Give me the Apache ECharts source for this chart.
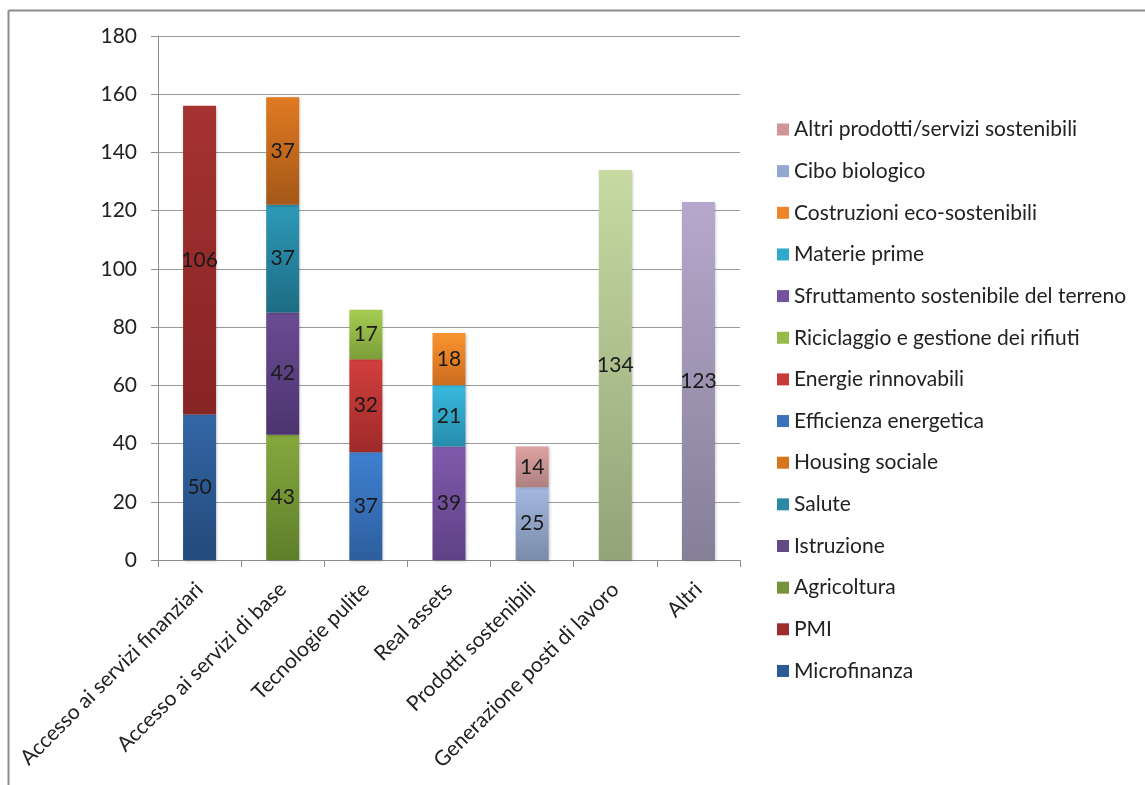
<!DOCTYPE html>
<html>
<head>
<meta charset="utf-8">
<script src="https://cdn.jsdelivr.net/npm/echarts@6/dist/echarts.min.js"></script>
<style>
html,body{margin:0;padding:0;background:#fff;}
#chart{width:1145px;height:785px;}
</style>
</head>
<body>
<div id="chart"></div>
<script>
// Categories
const categories = ["Accesso ai servizi finanziari","Accesso ai servizi di base","Tecnologie pulite","Real assets","Prodotti sostenibili","Generazione posti di lavoro","Altri"];
const yTicks = [0,20,40,60,80,100,120,140,160,180];

// Series values (stacked bottom to top)
const microfinanza   = [50, null, null, null, null, null, null];
const pmi            = [106, null, null, null, null, null, null];
const agricoltura    = [null, 43, null, null, null, null, null];
const istruzione     = [null, 42, null, null, null, null, null];
const salute         = [null, 37, null, null, null, null, null];
const housingSociale = [null, 37, null, null, null, null, null];
const efficienza     = [null, null, 37, null, null, null, null];
const energie        = [null, null, 32, null, null, null, null];
const riciclaggio    = [null, null, 17, null, null, null, null];
const sfruttamento   = [null, null, null, 39, null, null, null];
const materiePrime   = [null, null, null, 21, null, null, null];
const costruzioni    = [null, null, null, 18, null, null, null];
const ciboBiologico  = [null, null, null, null, 25, null, null];
const altriProdotti  = [null, null, null, null, 14, null, null];
const generazione    = [null, null, null, null, null, 134, null];
const altri          = [null, null, null, null, null, null, 123];

const seriesDefs = [
  {name:"Microfinanza", data:microfinanza, top:"#3466a6", bot:"#234a7b", legend:"#2b5b96"},
  {name:"PMI", data:pmi, top:"#a63232", bot:"#872424", legend:"#9b2d2d"},
  {name:"Agricoltura", data:agricoltura, top:"#86a83e", bot:"#5f7e2a", legend:"#77933c"},
  {name:"Istruzione", data:istruzione, top:"#6a4c92", bot:"#4c3470", legend:"#5f4a85"},
  {name:"Salute", data:salute, top:"#2d9ab8", bot:"#1e6c84", legend:"#2a8aa6"},
  {name:"Housing sociale", data:housingSociale, top:"#e07a22", bot:"#a45818", legend:"#d5761e"},
  {name:"Efficienza energetica", data:efficienza, top:"#3f80d0", bot:"#2d5e9e", legend:"#3a72bc"},
  {name:"Energie rinnovabili", data:energie, top:"#d23f3d", bot:"#9e2a2a", legend:"#c63a38"},
  {name:"Riciclaggio e gestione dei rifiuti", data:riciclaggio, top:"#a6cc52", bot:"#7c9e38", legend:"#94bb48"},
  {name:"Sfruttamento sostenibile del terreno", data:sfruttamento, top:"#805aac", bot:"#5f4286", legend:"#7452a0"},
  {name:"Materie prime", data:materiePrime, top:"#38bade", bot:"#268cac", legend:"#30a8cc"},
  {name:"Costruzioni eco-sostenibili", data:costruzioni, top:"#fa9430", bot:"#cc6c1e", legend:"#f08428"},
  {name:"Cibo biologico", data:ciboBiologico, top:"#a4b8e0", bot:"#7a8caa", legend:"#93a8d0"},
  {name:"Altri prodotti/servizi sostenibili", data:altriProdotti, top:"#dea2a2", bot:"#ae8080", legend:"#d29494"},
  {name:"Generazione posti di lavoro", data:generazione, top:"#c6daa2", bot:"#92a478", legend:"#b4c890"},
  {name:"Altri", data:altri, top:"#b6a8cc", bot:"#857f98", legend:"#a496b8"}
];

const legendNames = seriesDefs.slice(0,14).map(s=>s.name).reverse();
const FONT = "Lato, 'Open Sans', sans-serif";

const chart = echarts.init(document.getElementById('chart'));
chart.setOption({
  animation:false,
  backgroundColor:'#ffffff',
  textStyle:{fontFamily:FONT},
  graphic:[
    {type:'line', shape:{x1:8.5,y1:10.5,x2:1145,y2:10.5}, style:{stroke:'#8c8c8c', lineWidth:2}},
    {type:'line', shape:{x1:8.5,y1:10.5,x2:8.5,y2:785}, style:{stroke:'#8c8c8c', lineWidth:2}}
  ],
  grid:{left:158, right:405, top:36, bottom:225, containLabel:false},
  legend:{
    orient:'vertical',
    left:777, top:119, padding:0,
    data:legendNames.map(n=>({name:n, icon:'rect', itemStyle:{color:seriesDefs.find(s=>s.name===n).legend}})),
    itemWidth:12, itemHeight:12, itemGap:20.65,
    textStyle:{fontSize:21, color:'#222', fontFamily:FONT, lineHeight:20, padding:[0,0,0,0]},
    selectedMode:false
  },
  xAxis:{
    type:'category',
    data:categories,
    axisLine:{lineStyle:{color:'#8c8c8c', width:1}},
    axisTick:{show:true, length:7, alignWithLabel:false, lineStyle:{color:'#8c8c8c'}},
    axisLabel:{rotate:45, fontSize:21, color:'#222', margin:26, interval:0, fontFamily:FONT}
  },
  yAxis:{
    type:'value', min:yTicks[0], max:yTicks[yTicks.length-1], interval:20,
    axisLine:{show:true, lineStyle:{color:'#8c8c8c'}},
    axisTick:{show:true, length:7, inside:false, lineStyle:{color:'#8c8c8c'}},
    splitLine:{lineStyle:{color:'#9a9a9a', width:1}},
    axisLabel:{fontSize:21, color:'#222', margin:21, fontFamily:FONT}
  },
  series:seriesDefs.map(s=>({
    name:s.name,
    type:'bar',
    stack:'total',
    barWidth:33,
    data:s.data,
    itemStyle:{
      color:new echarts.graphic.LinearGradient(0,0,0,1,[{offset:0,color:s.top},{offset:1,color:s.bot}]),
      shadowColor:'rgba(0,0,0,0.25)', shadowBlur:3, shadowOffsetX:1, shadowOffsetY:1
    },
    label:{show:true, position:'inside', fontSize:21, color:'#1a1a1a', fontFamily:FONT,
      formatter:p=>p.value==null?'':String(p.value)}
  }))
});
</script>
</body>
</html>
